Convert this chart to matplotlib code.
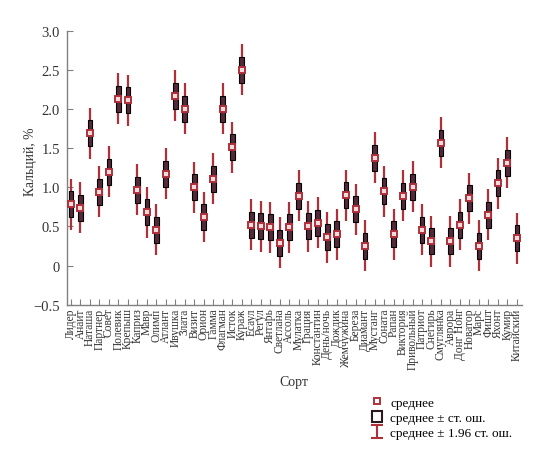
import numpy as np
import matplotlib
matplotlib.use("Agg")
import matplotlib.pyplot as plt
from matplotlib.lines import Line2D
from matplotlib.patches import Rectangle

varieties = ["Лидер", "Анаит", "Наташа", "Партнер", "Совет", "Полевик", "Крепыш",
             "Каприз", "Мавр", "Олимп", "Атлант", "Ивушка", "Злата", "Визит",
             "Орион", "Гамма", "Флагман", "Исток", "Кураж", "Есаул", "Регул",
             "Янтарь", "Светлана", "Ассоль", "Мулатка", "Грация", "Константин",
             "День/ночь", "Дождик", "Жемчужина", "Береза", "Диамант", "Мустанг",
             "Соната", "Рапан", "Виктория", "Привольный", "Патриот", "Снегирь",
             "Смуглянка", "Аврора", "Донг Нонг", "Новатор", "Марс", "Фишт",
             "Яхонт", "Кумир", "Китайский"]

mean_ca = [0.78, 0.74, 1.69, 0.94, 1.20, 2.13, 2.11, 0.97, 0.68, 0.46, 1.17,
           2.17, 2.00, 1.00, 0.62, 1.11, 2.00, 1.51, 2.50, 0.52, 0.50, 0.49,
           0.29, 0.49, 0.89, 0.50, 0.545, 0.36, 0.40, 0.90, 0.72, 0.25, 1.375,
           0.95, 0.40, 0.89, 1.005, 0.455, 0.31, 1.57, 0.31, 0.52, 0.86, 0.25,
           0.65, 1.05, 1.315, 0.35]

std_err = 0.166  # same for every variety

plt.rcParams['font.family'] = ['Liberation Serif', 'DejaVu Serif']

red = '#b0303a'
box_fill = '#55293a'
text_col = '#333333'

fig = plt.figure(figsize=(5.35, 4.52), dpi=100)
ax = fig.add_axes([0.1247, 0.3237, 0.8503, 0.6063])

x = np.arange(len(varieties))
m = np.array(mean_ca)

# whiskers: mean +- 1.96 SE, box: mean +- SE, square: mean
ax.vlines(x, m - 1.96 * std_err, m + 1.96 * std_err, color=red, lw=1.6, zorder=2)
ax.bar(x, 2 * std_err, bottom=m - std_err, width=0.5, color=box_fill,
       edgecolor='black', linewidth=0.8, zorder=3)
ax.plot(x, m, 's', ms=4.5, mfc='#f0dcdc', mec=red, mew=1.4, zorder=4)

ax.set_xlim(-0.45, len(varieties) - 0.5)
ax.set_ylim(-0.5, 3.0)
ax.set_yticks([-0.5, 0, 0.5, 1.0, 1.5, 2.0, 2.5, 3.0])
ax.set_yticklabels(['\u22120.5', '0', '0.5', '1.0', '1.5', '2.0', '2.5', '3.0'])
ax.set_xticks(x)
ax.set_xticklabels(varieties, rotation=90, fontsize=8.3, color=text_col)

ax.spines['top'].set_visible(False)
ax.spines['right'].set_visible(False)
for s in ['left', 'bottom']:
    ax.spines[s].set_color('#808080')
    ax.spines[s].set_linewidth(1.0)
ax.tick_params(axis='both', direction='in', length=4, color='#808080')
ax.tick_params(axis='y', labelsize=10.5, labelcolor=text_col, pad=5)
ax.tick_params(axis='x', pad=2)

ax.set_ylabel('Кальций, %', fontsize=9.8, color=text_col)
ax.yaxis.set_label_coords(-0.066, 0.524)
ax.set_xlabel('Сорт', fontsize=10, color=text_col, labelpad=4)

h_mean = Line2D([], [], ls='none', marker='s', ms=4.5, mfc='white', mec=red, mew=1.4)
h_box = Rectangle((0, 0), 1, 1, facecolor='white', edgecolor='#2a1a1e', linewidth=1.5)
h_ci = ax.errorbar([np.nan], [np.nan], yerr=[1], fmt='none', ecolor=red,
                   elinewidth=1.5, capsize=4, capthick=1.5)

fig.legend([h_mean, h_box, h_ci],
           ['среднее', 'среднее \u00b1 ст. ош.', 'среднее \u00b1 1.96 ст. ош.'],
           loc='upper left', bbox_to_anchor=(0.68, 0.14), frameon=False,
           fontsize=9.5, handlelength=0.8, handleheight=0.9, handletextpad=0.6,
           labelspacing=0.18, borderpad=0.1)

fig.savefig('out.png', dpi=100)
